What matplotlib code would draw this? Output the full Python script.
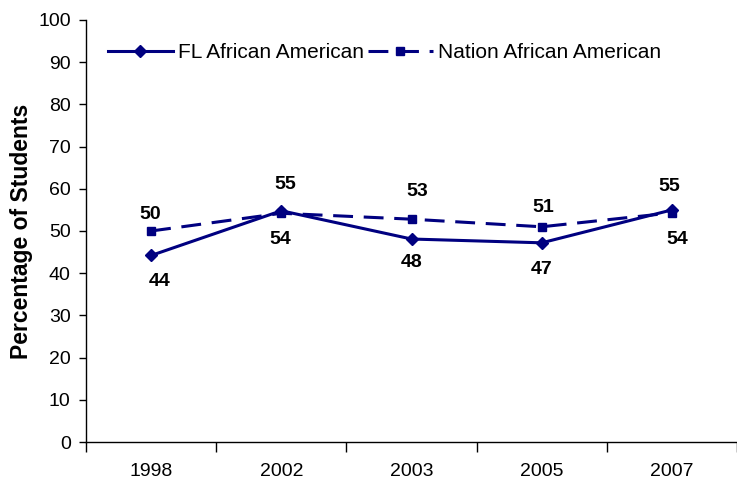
import matplotlib
matplotlib.use("Agg")
import matplotlib.pyplot as plt
import matplotlib.ticker as ticker

years = ["1998", "2002", "2003", "2005", "2007"]
fl_values = [44.2, 54.8, 48.1, 47.2, 55.0]
nation_values = [50.0, 54.2, 52.8, 51.0, 54.3]
fl_labels = ["44", "55", "48", "47", "55"]
nation_labels = ["50", "54", "53", "51", "54"]

# label offsets in points (dx, dy)
fl_offsets = [(6, -19), (3, 19), (0, -17), (0, -19), (-2, 17)]
nation_offsets = [(-1, 12), (-1, -19), (4, 20), (1, 14), (4, -19)]

navy = "#000080"
plt.rcParams["font.family"] = ["Liberation Sans", "DejaVu Sans"]

fig = plt.figure(figsize=(7.37, 4.86), dpi=100)
ax = fig.add_axes([86 / 737, 44 / 486, 651 / 737, 422 / 486])

x = list(range(len(years)))
ax.plot(x, fl_values, color=navy, lw=2.2, marker="D", ms=6.5,
        label="FL African American")
ax.plot(x, nation_values, color=navy, lw=2.2, ls=(0, (6.5, 3.5)), marker="s",
        ms=6, label="Nation African American")

for xi, v, lab, off in zip(x, fl_values, fl_labels, fl_offsets):
    ax.annotate(lab, (xi, v), xytext=off, textcoords="offset points",
                ha="center", va="center", fontsize=14, fontweight="bold")
for xi, v, lab, off in zip(x, nation_values, nation_labels, nation_offsets):
    ax.annotate(lab, (xi, v), xytext=off, textcoords="offset points",
                ha="center", va="center", fontsize=14, fontweight="bold")

ax.set_ylim(0, 100)
ax.set_xlim(-0.5, -0.5 + 651 / 132)
ax.yaxis.set_major_locator(ticker.MultipleLocator(10))
ax.tick_params(axis="y", labelsize=14, length=5, width=1, pad=6)

ax.set_xticks([i - 0.5 for i in range(len(years) + 1)])
ax.set_xticklabels([])
ax.set_xticks(x, minor=True)
ax.set_xticklabels(years, minor=True)
ax.tick_params(axis="x", which="major", length=7, width=1)
ax.tick_params(axis="x", which="minor", length=0, labelsize=14, pad=15)

for s in ["top", "right"]:
    ax.spines[s].set_visible(False)
ax.spines["left"].set_linewidth(1)
ax.spines["bottom"].set_linewidth(1)

ax.set_ylabel("Percentage of Students", fontsize=16.5, fontweight="bold", labelpad=4)

ax.legend(loc="upper left", bbox_to_anchor=(0.005, 0.99), ncol=2, frameon=False,
          fontsize=15, handlelength=3.1, handletextpad=0.25, columnspacing=0.2)

fig.savefig("out.png", dpi=100)
